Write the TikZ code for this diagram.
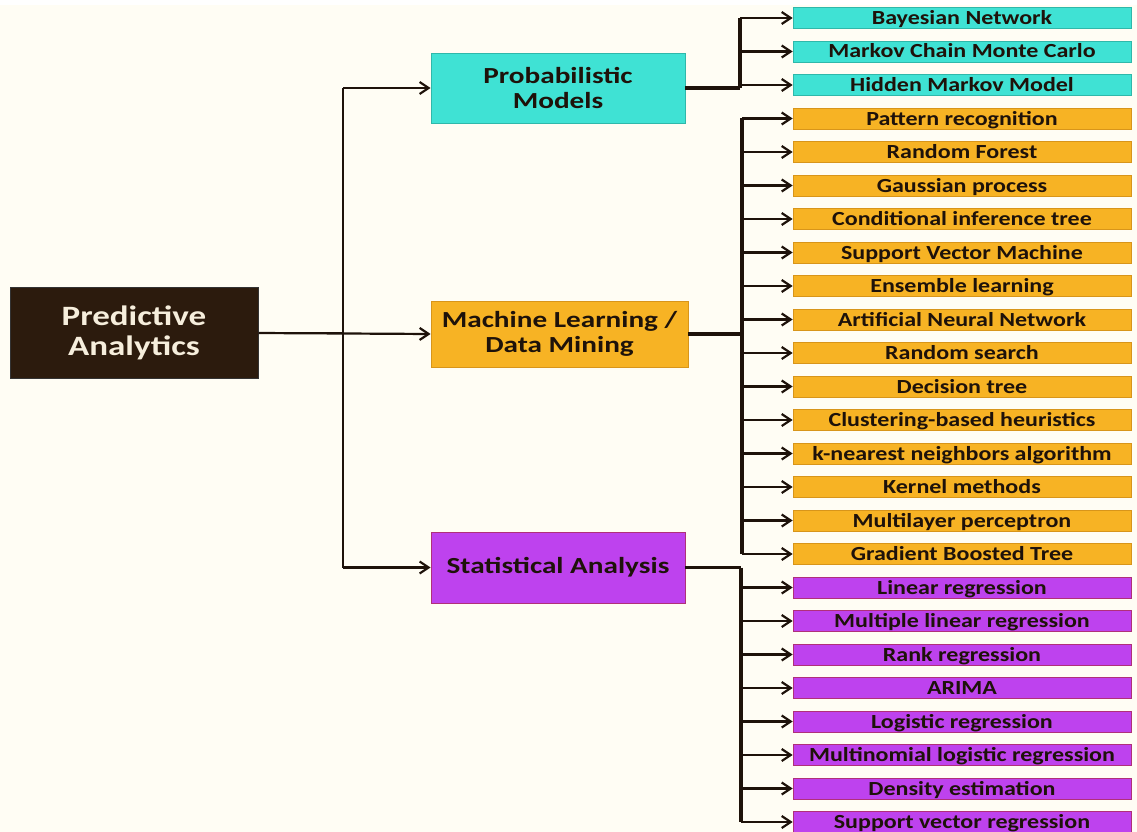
\documentclass[tikz,border=0pt]{standalone}
\usepackage{fontspec}
\setmainfont{Carlito}
\newfontfamily\rootfont[FakeStretch=1.25]{Carlito}
\newfontfamily\groupfont[FakeStretch=1.27]{Carlito}
\newfontfamily\leaffont[FakeStretch=1.2]{Carlito}
\usetikzlibrary{arrows.meta}

\definecolor{paper}{HTML}{FFFDF4}
\definecolor{rootfill}{HTML}{2C1B0D}
\definecolor{roottext}{HTML}{F6EEDC}
\definecolor{cyanfill}{HTML}{3FE2D4}
\definecolor{cyanedge}{HTML}{2FB8AA}
\definecolor{orangefill}{HTML}{F7B324}
\definecolor{orangeedge}{HTML}{D8951A}
\definecolor{purplefill}{HTML}{BE42EE}
\definecolor{purpleedge}{HTML}{B0307A}
\definecolor{ink}{HTML}{1E120A}

\tikzset{
  basebox/.style={rectangle, inner sep=0pt, align=center, text=ink},
  rootbox/.style={basebox, fill=rootfill, draw=black!80, line width=1pt,
    minimum width=248pt, minimum height=91pt, text=roottext,
    font=\rootfont\fontsize{28}{30}\selectfont\bfseries},
  groupbox/.style={basebox, minimum width=254pt, line width=0.8pt,
    font=\groupfont\fontsize{23}{25}\selectfont\bfseries},
  pmbox/.style={groupbox, fill=cyanfill, draw=cyanedge, minimum height=70pt},
  mlbox/.style={groupbox, fill=orangefill, draw=orangeedge, minimum width=257pt, minimum height=66pt},
  sabox/.style={groupbox, fill=purplefill, draw=purpleedge, minimum height=71pt},
  leaf/.style={basebox, minimum width=338pt, minimum height=21pt, line width=0.6pt,
    text height=15pt, text depth=2pt,
    font=\leaffont\fontsize{20}{21}\selectfont\bfseries},
  pmleaf/.style={leaf, fill=cyanfill, draw=cyanedge},
  mlleaf/.style={leaf, fill=orangefill, draw=orangeedge},
  saleaf/.style={leaf, fill=purplefill, draw=purpleedge},
  link/.style={draw=ink, line width=2.2pt},
  trunk/.style={draw=ink, line width=3.5pt},
  arr/.style={link, -{Straight Barb[length=9pt,width=12pt,line width=2.2pt]}},
}

\begin{document}
\begin{tikzpicture}[x=1pt, y=-1pt]
  % page and background
  \fill[paper] (0,0) rectangle (1137,832);
  \fill[white] (0,0) rectangle (1137,5);
  \useasboundingbox (0,0) rectangle (1137,832);

  % root and the three groups
  \node[rootbox] (root) at (134,333) {Predictive\\Analytics};
  \node[pmbox] (pm) at (558,88) {Probabilistic\\Models};
  \node[mlbox] (ml) at (559.5,334) {Machine Learning /\\Data Mining};
  \node[sabox] (sa) at (558,567.5) {Statistical Analysis};

  % leaves
  \foreach \i/\t in {0/Bayesian Network, 1/Markov Chain Monte Carlo, 2/Hidden Markov Model}
    \node[pmleaf] (p\i) at (962,18+33.5*\i) {\t};
  \foreach \i/\t in {3/Pattern recognition, 4/Random Forest, 5/Gaussian process,
      6/Conditional inference tree, 7/Support Vector Machine, 8/Ensemble learning,
      9/Artificial Neural Network, 10/Random search, 11/Decision tree,
      12/Clustering-based heuristics, 13/k-nearest neighbors algorithm,
      14/Kernel methods, 15/Multilayer perceptron, 16/Gradient Boosted Tree}
    \node[mlleaf] (m\i) at (962,18+33.5*\i) {\t};
  \foreach \i/\t in {17/Linear regression, 18/Multiple linear regression,
      19/Rank regression, 20/ARIMA, 21/Logistic regression,
      22/Multinomial logistic regression, 23/Density estimation,
      24/Support vector regression}
    \node[saleaf] (s\i) at (962,18+33.5*\i) {\t};

  % trunk positions
  \coordinate (rootbus) at (343,0);
  \coordinate (pmbus) at (740,0);
  \coordinate (mlbus) at (742,0);
  \coordinate (sabus) at (741,0);

  % root to groups
  \draw[link] (root.east) -- (rootbus |- root.east);
  \draw[link] (pm.west -| rootbus) -- (sa.west -| rootbus);
  \draw[arr] (root.east) -- (ml.west);
  \draw[arr] (pm.west -| rootbus) -- (pm.west);
  \draw[arr] (sa.west -| rootbus) -- (sa.west);

  % probabilistic models
  \draw[trunk] (pm.east) -- (pm.east -| pmbus);
  \draw[trunk] (p0.west -| pmbus) -- (pm.east -| pmbus);
  \foreach \i in {0,1,2}
    \draw[arr] (p\i.west -| pmbus) -- (p\i.west);

  % machine learning / data mining
  \draw[trunk, line width=4pt] (ml.east) -- (ml.east -| mlbus);
  \draw[trunk, line width=4pt] (m3.west -| mlbus) -- (m16.west -| mlbus);
  \foreach \i in {3,...,16}
    \draw[arr] (m\i.west -| mlbus) -- (m\i.west);

  % statistical analysis
  \draw[link] (sa.east) -- (sa.east -| sabus);
  \draw[trunk] (sa.east -| sabus) -- (s24.west -| sabus);
  \foreach \i in {17,...,24}
    \draw[arr] (s\i.west -| sabus) -- (s\i.west);
\end{tikzpicture}
\end{document}
